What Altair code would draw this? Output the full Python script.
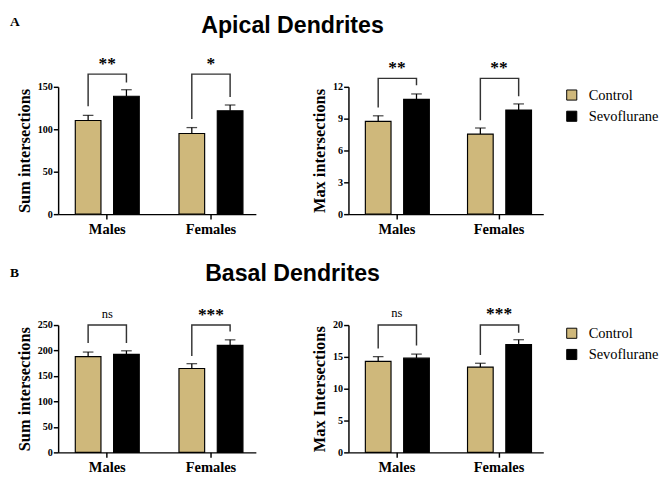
import altair as alt
import pandas as pd

groups = ["Males", "Females"]
series = ["Control", "Sevoflurane"]
panel_tags = ["A", "B"]
headings = ["Apical Dendrites", "Basal Dendrites"]

# Apical dendrites - sum of intersections
apical_sum_control = [110.3, 95.0]
apical_sum_control_sem = [6.1, 7.0]
apical_sum_sevo = [138.9, 121.7]
apical_sum_sevo_sem = [7.7, 6.9]
apical_sum_bracket_top = [165.0, 165.0]
apical_sum_bracket_control = [127.0, 112.0]
apical_sum_bracket_sevo = [155.0, 138.0]
apical_sum_sig_y = [166.5, 166.5]
apical_sum_sig = ["**", "*"]
apical_sum_ticks = [0, 50, 100, 150]

# Apical dendrites - max intersections
apical_max_control = [8.75, 7.55]
apical_max_control_sem = [0.52, 0.57]
apical_max_sevo = [10.82, 9.82]
apical_max_sevo_sem = [0.51, 0.57]
apical_max_bracket_top = [12.8, 12.8]
apical_max_bracket_control = [10.06, 8.85]
apical_max_bracket_sevo = [12.15, 11.12]
apical_max_sig_y = [12.96, 12.96]
apical_max_sig = ["**", "**"]
apical_max_ticks = [0, 3, 6, 9, 12]

# Basal dendrites - sum of intersections
basal_sum_control = [188.0, 164.8]
basal_sum_control_sem = [9.0, 9.4]
basal_sum_sevo = [192.6, 210.2]
basal_sum_sevo_sem = [6.9, 10.8]
basal_sum_bracket_top = [250.0, 250.0]
basal_sum_bracket_control = [214.6, 189.4]
basal_sum_bracket_sevo = [214.6, 237.4]
basal_sum_sig_y = [263.0, 253.0]
basal_sum_sig = ["ns", "***"]
basal_sum_ticks = [0, 50, 100, 150, 200, 250]

# Basal dendrites - max intersections
basal_max_control = [14.3, 13.4]
basal_max_control_sem = [0.74, 0.6]
basal_max_sevo = [14.8, 16.95]
basal_max_sevo_sem = [0.64, 0.75]
basal_max_bracket_top = [20.0, 20.0]
basal_max_bracket_control = [16.3, 15.3]
basal_max_bracket_sevo = [16.8, 18.8]
basal_max_sig_y = [21.2, 20.4]
basal_max_sig = ["ns", "***"]
basal_max_ticks = [0, 5, 10, 15, 20]

TAN = "#cfb87b"
SERIF = "Liberation Serif"
SANS = "Liberation Sans"


def panel(ctrl, ctrl_sem, sevo, sevo_sem, b_top, b_c, b_s, sig_y, sig,
          ticks, y_title, width, show_legend, tag=None, heading=None,
          tag_y=0, heading_y=0):
    bars = pd.DataFrame({
        "group": groups + groups,
        "series": [series[0]] * 2 + [series[1]] * 2,
        "value": ctrl + sevo,
        "upper": [v + s for v, s in zip(ctrl, ctrl_sem)]
        + [v + s for v, s in zip(sevo, sevo_sem)],
    })
    rows = []
    for i, g in enumerate(groups):
        rows += [
            {"group": g, "series": series[0], "value": b_c[i], "idx": 0},
            {"group": g, "series": series[0], "value": b_top[i], "idx": 1},
            {"group": g, "series": series[1], "value": b_top[i], "idx": 2},
            {"group": g, "series": series[1], "value": b_s[i], "idx": 3},
        ]
    brk = pd.DataFrame(rows)
    sigs = pd.DataFrame({"group": groups, "value": sig_y, "label": sig})

    x = alt.X("group:N", sort=groups,
              scale=alt.Scale(paddingInner=0.383, paddingOuter=0.145, align=0.57),
              axis=alt.Axis(title=None, labelAngle=0))
    xo = alt.XOffset("series:N", sort=series,
                     scale=alt.Scale(paddingInner=0.33, paddingOuter=0))
    yaxis = alt.Axis(values=ticks, title=y_title)
    yscale = alt.Scale(domain=[0, ticks[-1]], nice=False)
    y = alt.Y("value:Q", scale=yscale, axis=yaxis)

    if show_legend:
        legend = alt.Legend(title=None, orient="right", offset=21,
                            symbolType="square", symbolSize=110,
                            symbolStrokeColor="black", symbolStrokeWidth=1,
                            symbolOpacity=1,
                            labelFont=SERIF, labelFontSize=15, labelColor="black",
                            labelFontWeight="normal",
                            rowPadding=6, labelOffset=10, padding=1)
    else:
        legend = None

    bar_layer = alt.Chart(bars).mark_bar(stroke="black", strokeWidth=1.2, opacity=1).encode(
        x=x, xOffset=xo, y=y,
        color=alt.Color("series:N", sort=series,
                        scale=alt.Scale(domain=series, range=[TAN, "black"]),
                        legend=legend),
    )
    err = alt.Chart(bars).mark_rule(color="black", strokeWidth=1.3).encode(
        x=x, xOffset=xo, y=y, y2="upper:Q")
    caps = alt.Chart(bars).mark_tick(color="black", thickness=1.3, size=11).encode(
        x=x, xOffset=xo, y=alt.Y("upper:Q", scale=yscale, axis=yaxis))
    bracket = alt.Chart(brk).mark_line(color="#333333", strokeWidth=1.5).encode(
        x=x, xOffset=xo, y=y, order="idx:Q", detail="group:N")
    stars = alt.Chart(sigs).transform_filter(alt.datum.label != "ns").mark_text(
        font=SERIF, fontWeight="bold", fontSize=18, baseline="alphabetic",
        dy=-4, color="black").encode(x=x, y=y, text="label:N")
    ns = alt.Chart(sigs).transform_filter(alt.datum.label == "ns").mark_text(
        font=SERIF, fontWeight="normal", fontSize=13, baseline="alphabetic",
        color="black").encode(x=x, y=y, text="label:N")
    layers = [bar_layer, err, caps, bracket, stars, ns]
    if tag is not None:
        layers.append(alt.Chart(pd.DataFrame({"t": [tag]})).mark_text(
            font=SERIF, fontWeight="bold", fontSize=14, align="left",
            baseline="alphabetic", color="black").encode(
            text="t:N", x=alt.value(-50), y=alt.value(tag_y)))
    if heading is not None:
        layers.append(alt.Chart(pd.DataFrame({"t": [heading]})).mark_text(
            font=SANS, fontWeight="bold", fontSize=24, align="center",
            baseline="alphabetic", color="black").encode(
            text="t:N", x=alt.value(243), y=alt.value(heading_y)))
    return alt.layer(*layers).properties(width=width, height=132)


tl = panel(apical_sum_control, apical_sum_control_sem, apical_sum_sevo, apical_sum_sevo_sem,
           apical_sum_bracket_top, apical_sum_bracket_control, apical_sum_bracket_sevo,
           apical_sum_sig_y, apical_sum_sig, apical_sum_ticks, "Sum intersections",
           205, False, tag=panel_tags[0], heading=headings[0], tag_y=-63, heading_y=-56)
tr = panel(apical_max_control, apical_max_control_sem, apical_max_sevo, apical_max_sevo_sem,
           apical_max_bracket_top, apical_max_bracket_control, apical_max_bracket_sevo,
           apical_max_sig_y, apical_max_sig, apical_max_ticks, "Max intersections",
           202, True)
bl = panel(basal_sum_control, basal_sum_control_sem, basal_sum_sevo, basal_sum_sevo_sem,
           basal_sum_bracket_top, basal_sum_bracket_control, basal_sum_bracket_sevo,
           basal_sum_sig_y, basal_sum_sig, basal_sum_ticks, "Sum intersections",
           205, False, tag=panel_tags[1], heading=headings[1], tag_y=-50, heading_y=-46)
br = panel(basal_max_control, basal_max_control_sem, basal_max_sevo, basal_max_sevo_sem,
           basal_max_bracket_top, basal_max_bracket_control, basal_max_bracket_sevo,
           basal_max_sig_y, basal_max_sig, basal_max_ticks, "Max Intersections",
           202, True)

chart = alt.concat(
    tl, tr, bl, br, columns=2, bounds="flush",
    spacing={"row": 115, "column": 96},
).resolve_scale(color="independent").properties(
    padding={"left": 2, "top": -2, "right": 0, "bottom": 0},
    background="white",
).configure(font=SERIF).configure_view(stroke=None).configure_axis(
    domainColor="black", domainWidth=1.5, tickColor="black", tickWidth=1.5,
    tickSize=5, labelColor="black", labelFont=SERIF, labelFontWeight="bold",
    titleFont=SERIF, titleFontWeight="bold", titleColor="black", grid=False,
).configure_axisX(labelFontSize=15, labelPadding=3).configure_axisY(
    labelFontSize=10.5, labelPadding=1, titleFontSize=17, titlePadding=4,
).configure_legend(labelFont=SERIF, labelFontSize=15, labelColor="black")

chart.save("out.html", embed_options={"renderer": "svg", "actions": False})
